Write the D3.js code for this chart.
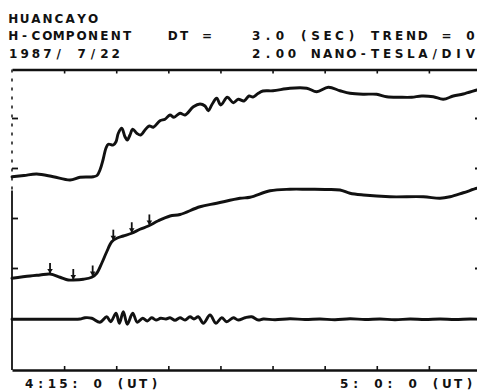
<!DOCTYPE html>
<html>
<head>
<meta charset="utf-8">
<script src="https://cdn.jsdelivr.net/npm/d3@7"></script>
<style>
  html, body { margin: 0; padding: 0; background: #fff; }
  svg { display: block; }
  text { font-family: "DejaVu Sans", sans-serif; font-weight: bold; fill: #111; }
</style>
</head>
<body>
<svg id="chart" width="477" height="390"></svg>
<script>
// Huancayo magnetogram, H component, 1987/07/22, 4:15 - 5:00 UT.
// Time in minutes after 4:15:00 UT, field in nT (2 nT per vertical division).

// Raw H trace (top)
const hTime = [0, 1.15, 2.37, 3.96, 5.57, 6.53, 7.80, 8.16, 8.44, 8.73, 9.02, 9.24, 9.72, 9.98,
  10.20, 10.53, 10.84, 11.06, 11.32, 11.58, 11.97, 12.35, 12.76, 13.17, 13.56, 14.20, 14.68,
  15.16, 15.54, 16.12, 16.60, 17.40, 18.04, 18.52, 18.84, 19.16, 19.64, 20.03, 20.66, 21.23,
  21.71, 22.26, 22.74, 23.12, 23.60, 24.08, 25.04, 26.67, 28.28, 29.24, 30.35, 31.47, 32.43,
  33.68, 34.99, 35.95, 37.23, 38.35, 39.31, 40.42, 41.38, 42.34, 43.30, 44.62, 45];
const hValue = [3.65, 3.70, 3.76, 3.65, 3.52, 3.63, 3.65, 3.70, 3.92, 4.32, 4.80, 4.95, 4.92, 5.05,
  5.39, 5.59, 5.25, 5.12, 5.32, 5.55, 5.39, 5.32, 5.52, 5.68, 5.63, 5.89, 5.95,
  6.12, 6.03, 6.19, 6.12, 6.45, 6.56, 6.48, 6.29, 6.52, 6.79, 6.52, 6.83, 6.61,
  6.75, 6.68, 6.88, 6.84, 6.98, 7.08, 7.09, 7.19, 7.19, 7.05, 7.23, 7.09, 6.99,
  6.95, 6.95, 6.85, 6.83, 6.83, 6.88, 6.85, 6.75, 6.88, 6.96, 7.12, 7.16];

// Smoothed trace (middle)
const smoothTime = [0, 1.73, 2.69, 3.65, 4.61, 5.40, 5.88, 6.84, 7.65, 8.13, 8.61, 9.09, 9.57,
  10.05, 10.68, 11.49, 12.28, 13.08, 14.04, 15.16, 16.12, 18.04, 19.64, 21.88, 22.84, 24.76,
  26.67, 28.28, 30.03, 31.47, 32.43, 33.71, 36.27, 39.47, 41.07, 42.03, 43.30, 44.62, 45];
const smoothValue = [-0.41, -0.32, -0.28, -0.24, -0.37, -0.48, -0.48, -0.45, -0.37, -0.21, 0.19, 0.65, 1.05,
  1.19, 1.28, 1.39, 1.55, 1.68, 1.89, 2.08, 2.14, 2.45, 2.59, 2.79, 2.83, 3.09,
  3.15, 3.15, 3.14, 3.12, 2.99, 2.92, 2.85, 2.85, 2.79, 2.85, 3.01, 3.19, 3.22];

// Event markers on the smoothed trace
const markerTime = [3.65, 5.88, 7.74, 9.72, 11.49, 13.18];

// Band-passed pulsation trace (bottom)
const pulseTime = [0, 5.57, 6.53, 7.00, 7.65, 8.44, 9.09, 9.47, 9.98, 10.30, 10.68, 11.06, 11.58,
  12.02, 12.54, 12.98, 13.40, 13.82, 14.27, 14.78, 15.16, 15.64, 16.12, 16.60, 17.08, 17.46,
  17.88, 18.36, 19.00, 19.57, 20.12, 20.60, 21.23, 21.71, 22.36, 23.00, 23.63, 24.11, 25.24,
  26.67, 28.11, 29.55, 30.99, 32.43, 33.87, 35.31, 36.75, 38.19, 39.63, 41.07, 42.51, 43.95, 45];
const pulseValue = [-2.05, -2.05, -2.04, -1.99, -2.01, -2.17, -1.95, -2.15, -1.81, -2.21, -1.75, -2.25, -1.81,
  -2.17, -2.01, -2.12, -1.99, -2.08, -2.01, -2.04, -1.99, -2.09, -1.99, -2.08, -1.95, -2.04,
  -1.95, -2.21, -1.88, -2.21, -1.99, -2.15, -1.99, -2.08, -1.99, -1.95, -2.08, -2.04, -2.07,
  -2.03, -2.06, -2.04, -2.07, -2.03, -2.06, -2.04, -2.07, -2.04, -2.06, -2.04, -2.06, -2.04, -2.05];

// Axis ticks
const timeTicks = [5, 10, 15, 20, 25, 30, 35, 40];
const fieldTicks = [0, 2, 4, 6];

// Header / footer labels: [text, start x, character pitch, baseline]
const pitchL = 11.4, pitchR = 11.9, colR = 252;
const textRuns = [
  ["HUANCAYO", 9, pitchL, 22.5],
  ["H-COMPONENT", 9, pitchL, 40],
  ["DT", 9 + 14 * pitchL, pitchL, 40],
  ["=", 9 + 17 * pitchL, pitchL, 40],
  ["3.0", colR, pitchR, 40],
  ["(SEC)", colR + 4 * pitchR, pitchR, 40],
  ["TREND", colR + 10 * pitchR, pitchR, 40],
  ["=", colR + 16 * pitchR, pitchR, 40],
  ["0", colR + 18 * pitchR, pitchR, 40],
  ["1987/ 7/22", 9, pitchL, 57.5],
  ["2.00 NANO-TESLA/DIV", colR, pitchR, 57.5],
  ["4:15: 0 (UT)", 25, pitchL, 388],
  ["5: 0: 0 (UT)", 340, pitchL, 388]
];

const svg = d3.select("#chart");
const plotLeft = 12, plotRight = 481, plotTop = 69.5, plotBottom = 370;

const x = d3.scaleLinear().domain([0, 45]).range([plotLeft, plotRight]);
const y = d3.scaleLinear()
  .domain([(268 - plotBottom) / 25, (268 - plotTop) / 25])
  .range([plotBottom, plotTop]);

// ---- text: fixed-cell lettering, one glyph per cell ----
const cellW = 8.4;
textRuns.forEach(([str, x0, pitch, base]) => {
  const chars = [], xs = [];
  [...str].forEach((c, i) => {
    if (c !== " ") { chars.push(c); xs.push((x0 + i * pitch + cellW / 2).toFixed(1)); }
  });
  svg.append("text")
    .attr("x", xs.join(" "))
    .attr("y", base)
    .attr("font-size", 12)
    .attr("text-anchor", "middle")
    .text(chars.join(""));
});

// ---- frame & axes ----
const topAxis = svg.append("g").attr("transform", `translate(0,${plotTop})`)
  .call(d3.axisBottom(x).tickValues(timeTicks).tickSize(4).tickSizeOuter(0).tickFormat(""));
const bottomAxis = svg.append("g").attr("transform", `translate(0,${plotBottom})`)
  .call(d3.axisTop(x).tickValues(timeTicks).tickSize(4).tickSizeOuter(0).tickFormat(""));
[topAxis, bottomAxis].forEach(g => {
  g.select(".domain").attr("stroke", "#111").attr("stroke-width", 2.5);
  g.selectAll(".tick line").attr("stroke", "#111").attr("stroke-width", 1.6);
});

const leftAxis = svg.append("g").attr("transform", `translate(${plotLeft},0)`)
  .call(d3.axisRight(y).tickValues(fieldTicks).tickSize(6).tickFormat(""));
leftAxis.select(".domain").remove();
leftAxis.selectAll(".tick line").attr("stroke", "#111").attr("stroke-width", 1.8);

// Left edge: dotted upper part, solid lower part
const splitValue = 3.1;
svg.append("line").attr("x1", plotLeft).attr("x2", plotLeft)
  .attr("y1", y.range()[1]).attr("y2", y(splitValue))
  .attr("stroke", "#222").attr("stroke-width", 1.6).attr("stroke-dasharray", "3,6");
svg.append("line").attr("x1", plotLeft).attr("x2", plotLeft)
  .attr("y1", y(splitValue)).attr("y2", y.range()[0])
  .attr("stroke", "#111").attr("stroke-width", 1.8);

const rightAxis = svg.append("g").attr("transform", `translate(${plotRight},0)`)
  .call(d3.axisLeft(y).tickValues(fieldTicks).tickSize(6).tickFormat(""));
rightAxis.select(".domain").remove();
rightAxis.selectAll(".tick line").attr("stroke", "#111").attr("stroke-width", 2.2);

// ---- traces ----
const line = d3.line()
  .x(d => x(d[0]))
  .y(d => y(d[1]))
  .curve(d3.curveCatmullRom.alpha(0.5));

const traces = [
  d3.zip(hTime, hValue),
  d3.zip(smoothTime, smoothValue),
  d3.zip(pulseTime, pulseValue)
];

svg.append("g").selectAll("path").data(traces).join("path")
  .attr("d", line)
  .attr("fill", "none")
  .attr("stroke", "#111")
  .attr("stroke-width", 2.9)
  .attr("stroke-linejoin", "round")
  .attr("stroke-linecap", "round");

// ---- markers on the smoothed trace ----
const bis = d3.bisector(d => d).left;
function smoothAt(t) {
  const i = Math.max(1, Math.min(smoothTime.length - 1, bis(smoothTime, t)));
  const t0 = smoothTime[i - 1], t1 = smoothTime[i];
  const f = (t - t0) / (t1 - t0);
  return smoothValue[i - 1] + f * (smoothValue[i] - smoothValue[i - 1]);
}
const markers = svg.append("g").selectAll("g").data(markerTime).join("g")
  .attr("transform", t => `translate(${x(t)},${y(smoothAt(t))})`);
markers.append("line")
  .attr("x1", 0).attr("x2", 0).attr("y1", -11).attr("y2", -1)
  .attr("stroke", "#111").attr("stroke-width", 1.8);
markers.append("path")
  .attr("d", "M-2.8,-5 L2.8,-5 L0,-0.5 Z")
  .attr("fill", "#111");
</script>
</body>
</html>
